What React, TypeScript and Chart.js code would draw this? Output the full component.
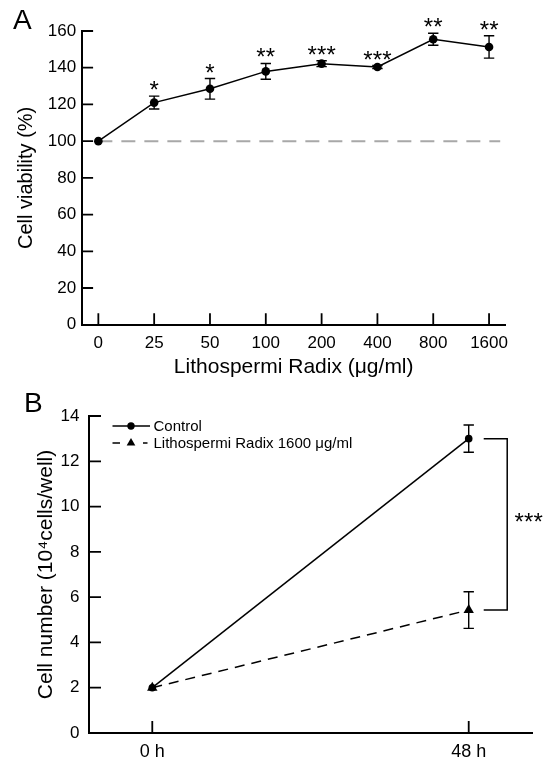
import React, { useEffect, useRef } from 'react';
import { Chart, registerables } from 'chart.js';

Chart.register(...registerables);

const FONT = "'Liberation Sans', Arial, Helvetica, sans-serif";

// ---------- Panel A data ----------
const doseLabels = ['0', '25', '50', '100', '200', '400', '800', '1600'];
const viability = [100, 121, 128.5, 138, 142.2, 140.4, 155.5, 151.3];
const viabilityErr = [0, 3.5, 5.6, 4.3, 1.6, 0.8, 3.3, 6.1];
const viabilitySig = ['', '*', '*', '**', '***', '***', '**', '**'];
const baselineValue = 100;
const baselineRange = [0, 7.2];

// ---------- Panel B data ----------
const timeLabels = ['0 h', '48 h'];
const controlCells = [2.0, 13.0];
const controlErr = [0, 0.6];
const lrCells = [2.0, 5.43];
const lrErr = [0, 0.81];
const seriesNames = ['Control', 'Lithospermi Radix 1600 \u03bcg/ml'];
const groupSig = '***';

// ---------- plugins ----------
const errorBarPlugin = {
  id: 'errorBars',
  beforeDatasetsDraw(chart: any) {
    const { ctx } = chart;
    const yScale = chart.scales.y;
    chart.data.datasets.forEach((ds: any, i: number) => {
      if (!ds.errors) return;
      const meta = chart.getDatasetMeta(i);
      ctx.save();
      ctx.strokeStyle = '#000';
      ctx.lineWidth = 1.4;
      ctx.setLineDash([]);
      ds.data.forEach((pt: any, j: number) => {
        const e = ds.errors[j];
        if (!e) return;
        const x = meta.data[j].x;
        const yt = yScale.getPixelForValue(pt.y + e);
        const yb = yScale.getPixelForValue(pt.y - e);
        const cap = 5.2;
        ctx.beginPath();
        ctx.moveTo(x, yt); ctx.lineTo(x, yb);
        ctx.moveTo(x - cap, yt); ctx.lineTo(x + cap, yt);
        ctx.moveTo(x - cap, yb); ctx.lineTo(x + cap, yb);
        ctx.stroke();
      });
      ctx.restore();
    });
  },
};

const inwardTicksPlugin = {
  id: 'inwardTicks',
  afterDraw(chart: any, _args: any, opts: any) {
    const { ctx, chartArea } = chart;
    const len = opts.length || 11;
    ctx.save();
    ctx.strokeStyle = '#000';
    ctx.lineWidth = 1.8;
    ctx.setLineDash([]);
    const xs = chart.scales.x;
    const ys = chart.scales.y;
    ctx.beginPath();
    xs.ticks.forEach((t: any) => {
      const px = xs.getPixelForValue(t.value);
      ctx.moveTo(px, chartArea.bottom);
      ctx.lineTo(px, chartArea.bottom - len);
    });
    ys.ticks.forEach((t: any) => {
      if (t.value === ys.min) return;
      const py = ys.getPixelForValue(t.value);
      ctx.moveTo(chartArea.left, py);
      ctx.lineTo(chartArea.left + len, py);
    });
    ctx.stroke();
    ctx.restore();
  },
};

const panelLabelPlugin = {
  id: 'panelLabel',
  afterDraw(chart: any, _args: any, opts: any) {
    const { ctx } = chart;
    ctx.save();
    ctx.fillStyle = '#000';
    ctx.font = `28px ${FONT}`;
    ctx.textAlign = 'left';
    ctx.textBaseline = 'alphabetic';
    ctx.fillText(opts.text, opts.x, opts.y);
    ctx.restore();
  },
};

function drawStars(ctx: any, text: string, cx: number, baseY: number) {
  const n = text.length;
  const sp = 9.5;
  ctx.save();
  ctx.fillStyle = '#000';
  ctx.font = `24px ${FONT}`;
  ctx.textAlign = 'center';
  ctx.textBaseline = 'alphabetic';
  for (let k = 0; k < n; k++) {
    ctx.fillText('*', cx + (k - (n - 1) / 2) * sp, baseY);
  }
  ctx.restore();
}

const sigStarsPlugin = {
  id: 'sigStars',
  afterDatasetsDraw(chart: any) {
    const { ctx } = chart;
    const ys = chart.scales.y;
    const meta = chart.getDatasetMeta(0);
    viabilitySig.forEach((s, j) => {
      if (!s) return;
      const top = ys.getPixelForValue(viability[j] + viabilityErr[j]);
      drawStars(ctx, s, meta.data[j].x, top + 2);
    });
  },
};

const bracketPlugin = {
  id: 'bracket',
  afterDatasetsDraw(chart: any) {
    const { ctx } = chart;
    const xs = chart.scales.x;
    const ys = chart.scales.y;
    const x0 = xs.getPixelForValue(1) + 15;
    const x1 = xs.getPixelForValue(1) + 38.5;
    const ya = ys.getPixelForValue(controlCells[1]);
    const yb = ys.getPixelForValue(lrCells[1]);
    ctx.save();
    ctx.strokeStyle = '#000';
    ctx.lineWidth = 1.5;
    ctx.setLineDash([]);
    ctx.beginPath();
    ctx.moveTo(x0, ya); ctx.lineTo(x1, ya); ctx.lineTo(x1, yb); ctx.lineTo(x0, yb);
    ctx.stroke();
    ctx.restore();
    drawStars(ctx, groupSig, x1 + 21.5, (ya + yb) / 2 + 6);
  },
};

const legendPlugin = {
  id: 'customLegend',
  afterDraw(chart: any) {
    const { ctx, chartArea } = chart;
    const L = chartArea.left;
    const r1 = chartArea.top + 10;
    const r2 = chartArea.top + 27;
    ctx.save();
    ctx.strokeStyle = '#000';
    ctx.fillStyle = '#000';
    ctx.lineWidth = 1.5;
    // row 1: solid line with circle
    ctx.beginPath();
    ctx.moveTo(L + 23.5, r1); ctx.lineTo(L + 61, r1);
    ctx.stroke();
    ctx.beginPath();
    ctx.arc(L + 42, r1, 3.7, 0, Math.PI * 2);
    ctx.fill();
    // row 2: dashes with triangle
    ctx.beginPath();
    ctx.moveTo(L + 23.5, r2); ctx.lineTo(L + 31, r2);
    ctx.moveTo(L + 54, r2); ctx.lineTo(L + 58.5, r2);
    ctx.stroke();
    const tr = 5;
    ctx.beginPath();
    ctx.moveTo(L + 42, r2 - tr);
    ctx.lineTo(L + 42 + tr * 0.866, r2 + tr / 2);
    ctx.lineTo(L + 42 - tr * 0.866, r2 + tr / 2);
    ctx.closePath();
    ctx.fill();
    ctx.font = `15px ${FONT}`;
    ctx.textAlign = 'left';
    ctx.textBaseline = 'middle';
    ctx.fillText(chart.data.datasets[0].label, L + 64.5, r1 + 0.5);
    ctx.fillText(chart.data.datasets[1].label, L + 64.5, r2 + 0.5);
    ctx.restore();
  },
};

function ChartA() {
  const ref = useRef<HTMLCanvasElement | null>(null);
  useEffect(() => {
    if (!ref.current) return;
    const chart = new Chart(ref.current, {
      type: 'line',
      data: {
        datasets: [
          {
            label: 'Cell viability',
            data: viability.map((y, i) => ({ x: i, y })),
            errors: viabilityErr,
            borderColor: '#000',
            backgroundColor: '#000',
            borderWidth: 1.5,
            pointRadius: 4.3,
            pointBackgroundColor: '#000',
            pointBorderWidth: 0,
            tension: 0,
            clip: false,
          } as any,
          {
            label: 'baseline',
            data: baselineRange.map((x) => ({ x, y: baselineValue })),
            borderColor: '#a8a8a8',
            borderWidth: 2,
            borderDash: [14, 9],
            pointRadius: 0,
            tension: 0,
          },
        ],
      },
      options: {
        animation: false,
        responsive: false,
        devicePixelRatio: 1,
        layout: { padding: { left: 0, right: 43.2, top: 31, bottom: 0 } },
        plugins: {
          legend: { display: false },
          tooltip: { enabled: false },
          panelLabel: { text: 'A', x: 13, y: 28.5 },
          inwardTicks: { length: 11.5 },
        } as any,
        scales: {
          x: {
            type: 'linear',
            min: -0.3,
            max: 7.3,
            afterBuildTicks: (s: any) => {
              s.ticks = doseLabels.map((_, i) => ({ value: i }));
            },
            afterFit: (s: any) => {
              s.height = 55.3;
            },
            grid: { display: false, drawTicks: false },
            border: { display: true, color: '#000', width: 2 },
            ticks: {
              color: '#000',
              font: { family: FONT, size: 17 },
              padding: 8,
              maxRotation: 0,
              autoSkip: false,
              callback: (v: any) => doseLabels[v],
            },
            title: {
              display: true,
              text: 'Lithospermi Radix (\u03bcg/ml)',
              color: '#000',
              font: { family: FONT, size: 21 },
              padding: { top: 0, bottom: 0 },
            },
          },
          y: {
            type: 'linear',
            min: 0,
            max: 160,
            afterFit: (s: any) => {
              s.width = 81.6;
            },
            grid: { display: false, drawTicks: false },
            border: { display: true, color: '#000', width: 2 },
            ticks: {
              stepSize: 20,
              color: '#000',
              font: { family: FONT, size: 17 },
              padding: 5.5,
            },
            title: {
              display: true,
              text: 'Cell viability (%)',
              color: '#000',
              font: { family: FONT, size: 20 },
              padding: { top: 14.3, bottom: 0 },
            },
          },
        },
      },
      plugins: [errorBarPlugin, sigStarsPlugin, inwardTicksPlugin, panelLabelPlugin],
    } as any);
    return () => chart.destroy();
  }, []);
  return (
    <canvas
      ref={ref}
      width={549}
      height={380}
      style={{ position: 'absolute', left: 0, top: 0, width: 549, height: 380, display: 'block' }}
    />
  );
}

function ChartB() {
  const ref = useRef<HTMLCanvasElement | null>(null);
  useEffect(() => {
    if (!ref.current) return;
    const chart = new Chart(ref.current, {
      type: 'line',
      data: {
        datasets: [
          {
            label: seriesNames[0],
            data: controlCells.map((y, i) => ({ x: i, y })),
            errors: controlErr,
            borderColor: '#000',
            backgroundColor: '#000',
            borderWidth: 1.5,
            pointRadius: 3.8,
            pointStyle: 'circle',
            pointBackgroundColor: '#000',
            pointBorderWidth: 0,
            tension: 0,
            clip: false,
          } as any,
          {
            label: seriesNames[1],
            data: lrCells.map((y, i) => ({ x: i, y })),
            errors: lrErr,
            borderColor: '#000',
            backgroundColor: '#000',
            borderWidth: 1.5,
            borderDash: [10, 7],
            pointRadius: 6,
            pointStyle: 'triangle',
            pointBackgroundColor: '#000',
            pointBorderWidth: 0,
            tension: 0,
            clip: false,
          } as any,
        ],
      },
      options: {
        animation: false,
        responsive: false,
        devicePixelRatio: 1,
        layout: { padding: { left: 0, right: 17, top: 36, bottom: 0 } },
        plugins: {
          legend: { display: false },
          tooltip: { enabled: false },
          panelLabel: { text: 'B', x: 24, y: 412 - 380 },
          inwardTicks: { length: 12 },
        } as any,
        scales: {
          x: {
            type: 'linear',
            min: -0.2,
            max: 1.2,
            afterBuildTicks: (s: any) => {
              s.ticks = timeLabels.map((_, i) => ({ value: i }));
            },
            afterFit: (s: any) => {
              s.height = 27;
            },
            grid: { display: false, drawTicks: false },
            border: { display: true, color: '#000', width: 2 },
            ticks: {
              color: '#000',
              font: { family: FONT, size: 18 },
              padding: 8,
              maxRotation: 0,
              autoSkip: false,
              callback: (v: any) => timeLabels[v],
            },
          },
          y: {
            type: 'linear',
            min: 0,
            max: 14,
            afterFit: (s: any) => {
              s.width = 89;
            },
            grid: { display: false, drawTicks: false },
            border: { display: true, color: '#000', width: 2 },
            ticks: {
              stepSize: 2,
              color: '#000',
              font: { family: FONT, size: 17 },
              padding: 9.5,
            },
            title: {
              display: true,
              text: 'Cell number (10\u2074cells/well)',
              color: '#000',
              font: { family: FONT, size: 21 },
              padding: { top: 33.4, bottom: 0 },
            },
          },
        },
      },
      plugins: [errorBarPlugin, bracketPlugin, inwardTicksPlugin, legendPlugin, panelLabelPlugin],
    } as any);
    return () => chart.destroy();
  }, []);
  return (
    <canvas
      ref={ref}
      width={549}
      height={380}
      style={{ position: 'absolute', left: 0, top: 380, width: 549, height: 380, display: 'block' }}
    />
  );
}

export default function App() {
  return (
    <div
      style={{
        position: 'fixed',
        left: 0,
        top: 0,
        width: 549,
        height: 760,
        background: '#fff',
        overflow: 'hidden',
      }}
    >
      <ChartA />
      <ChartB />
    </div>
  );
}
